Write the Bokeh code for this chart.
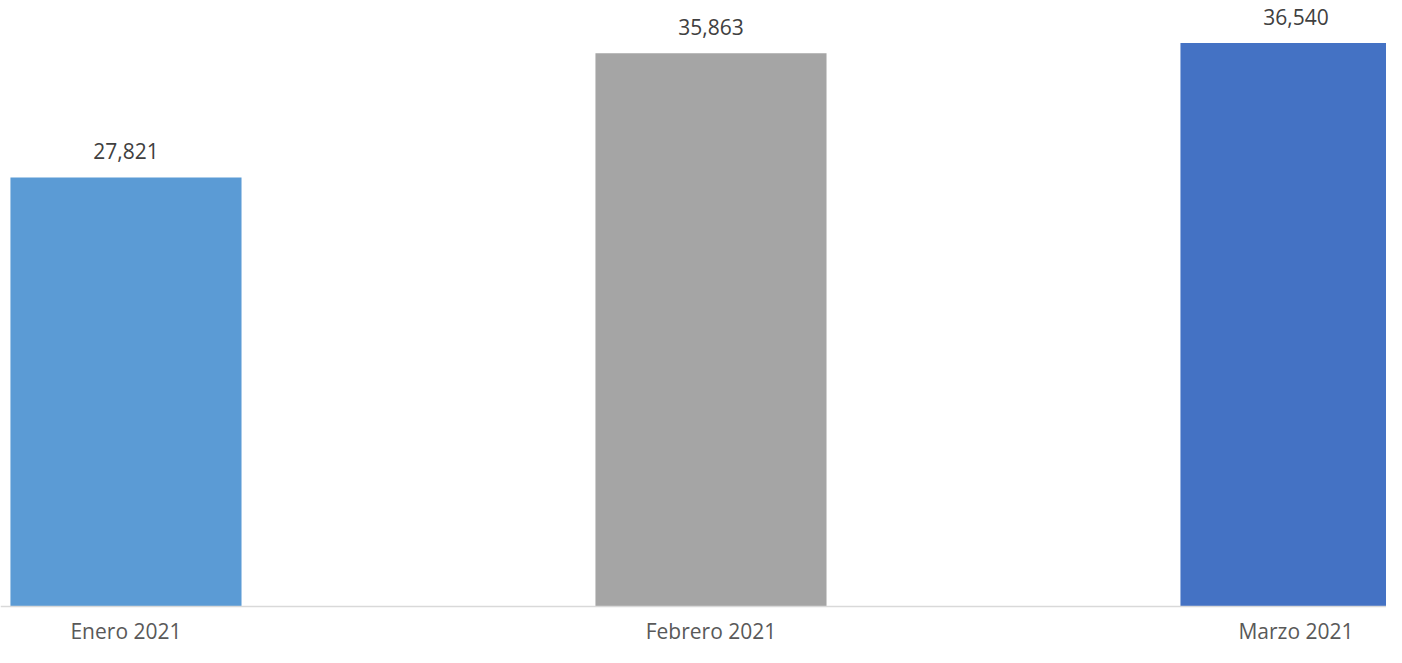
from bokeh.plotting import figure
from bokeh.models import ColumnDataSource, LinearAxis, FixedTicker, Range1d
from bokeh.core.properties import value
from bokeh.embed import file_html
from bokeh.resources import INLINE

categories = ["Enero 2021", "Febrero 2021", "Marzo 2021"]
values = [27821, 35863, 36540]
colors = ["#5B9BD5", "#A5A5A5", "#4472C4"]
value_labels = [f"{v:,}" for v in values]

idx = list(range(len(categories)))
src = ColumnDataSource(dict(x=idx, top=values, color=colors, label=value_labels))

W, H = 1386, 647
p = figure(width=W, height=H, output_backend="svg", toolbar_location=None,
           x_range=Range1d(-0.2145, 2.1547), y_range=Range1d(-2658, 39290),
           x_axis_type=None, y_axis_type=None, min_border=0,
           background_fill_color="white", border_fill_color="white")
p.outline_line_color = None
p.xgrid.visible = False
p.ygrid.visible = False

p.vbar(x="x", top="top", bottom=0, width=0.395, color="color", line_color=None, source=src)

p.text(x="x", y="top", text="label", source=src, text_align="center",
       text_baseline="alphabetic", y_offset=-26, text_font=value("Open Sans"),
       text_font_size="21px", text_color="#404040")

ax = LinearAxis(fixed_location=0)
ax.ticker = FixedTicker(ticks=idx)
ax.major_label_overrides = {i: c for i, c in zip(idx, categories)}
ax.major_tick_out = 0
ax.major_tick_in = 0
ax.minor_tick_out = 0
ax.minor_tick_in = 0
ax.axis_line_color = "#D9D9D9"
ax.axis_line_width = 1.5
ax.major_label_standoff = 10
ax.major_label_text_font = "Open Sans"
ax.major_label_text_font_size = "21px"
ax.major_label_text_color = "#595959"
p.add_layout(ax, "below")

open("out.html", "w").write(file_html(p, INLINE))
